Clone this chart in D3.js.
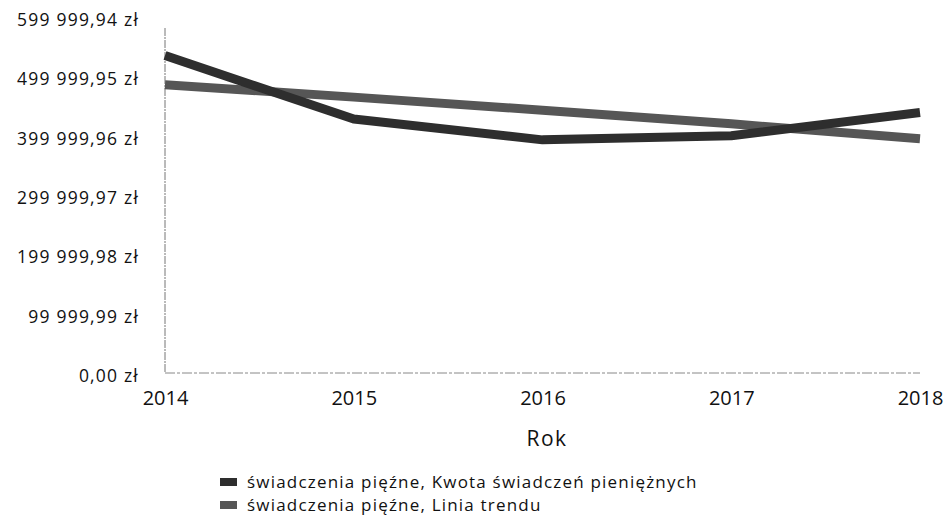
<!DOCTYPE html>
<html><head><meta charset="utf-8">
<script src="https://cdn.jsdelivr.net/npm/d3@7"></script>
<style>body{margin:0;background:#fff}svg{display:block}text{font-family:"Open Sans",sans-serif;fill:#111}</style>
</head><body><svg id="c" width="946" height="521"></svg>
<script>
const years = [2014, 2015, 2016, 2017, 2018];
const kwota = [540000, 433000, 398000, 405000, 444000];
const trend = [491000, 470000, 448000, 425000, 400000];
const yTicks = [0, 99999.99, 199999.98, 299999.97, 399999.96, 499999.95, 599999.94];
const seriesNames = ["świadczenia pięźne, Kwota świadczeń pieniężnych", "świadczenia pięźne, Linia trendu"];
const colors = ["#2e2e2e", "#565656"];

const svg = d3.select("#c");
const x = d3.scaleLinear().domain([2014, 2018]).range([165, 920]);
const y = d3.scaleLinear().domain([0, 599999.94]).range([376, 20]);

const fmt = v => {
  const s = v.toFixed(2).split(".");
  return s[0].replace(/\B(?=(\d{3})+(?!\d))/g, " ") + "," + s[1] + " zł";
};

// y axis
const ya = svg.append("g").attr("transform", "translate(165,0)")
  .call(d3.axisLeft(y).tickValues(yTicks).tickFormat(fmt).tickSize(0).tickPadding(26));
ya.select(".domain").remove();
ya.selectAll("text").style("font-size", "17.5px").style("letter-spacing", "1.2px")
  .style("font-family", "'Open Sans',sans-serif").attr("fill", "#111");
svg.append("line").attr("x1", 165).attr("x2", 165).attr("y1", 28).attr("y2", 373)
  .attr("stroke", "#777").attr("stroke-width", 1).attr("stroke-dasharray", "8,1,2,1");

// x axis
const xa = svg.append("g").attr("transform", "translate(0,373)")
  .call(d3.axisBottom(x).tickValues(years).tickFormat(d3.format("d")).tickSize(0).tickPadding(18));
xa.select(".domain").remove();
xa.selectAll("text").style("font-size", "20px").style("font-family", "'Open Sans',sans-serif").attr("fill", "#111");
svg.append("line").attr("x1", 165).attr("x2", 920).attr("y1", 373).attr("y2", 373)
  .attr("stroke", "#888").attr("stroke-width", 1).attr("stroke-dasharray", "10,2,3,2");

svg.append("text").attr("x", 547).attr("y", 446).attr("text-anchor", "middle")
  .style("font-size", "21px").style("letter-spacing", "1.5px").attr("fill", "#333").text("Rok");

const line = d3.line().x((d, i) => x(years[i])).y(d => y(d));
[trend, kwota].forEach((s, k) => {
  svg.append("path").datum(s).attr("d", line).attr("fill", "none")
    .attr("stroke", k === 0 ? colors[1] : colors[0]).attr("stroke-width", 9)
    .attr("stroke-linejoin", "round");
});

// legend
seriesNames.forEach((n, i) => {
  const g = svg.append("g").attr("transform", `translate(220,${482 + i * 23})`);
  g.append("rect").attr("x", 0).attr("y", -4).attr("width", 17).attr("height", 8).attr("fill", colors[i]);
  g.append("text").attr("x", 27).attr("y", 0).attr("dy", "0.35em").style("font-size", "17px")
    .style("letter-spacing", "1.2px").text(n);
});
</script></body></html>
